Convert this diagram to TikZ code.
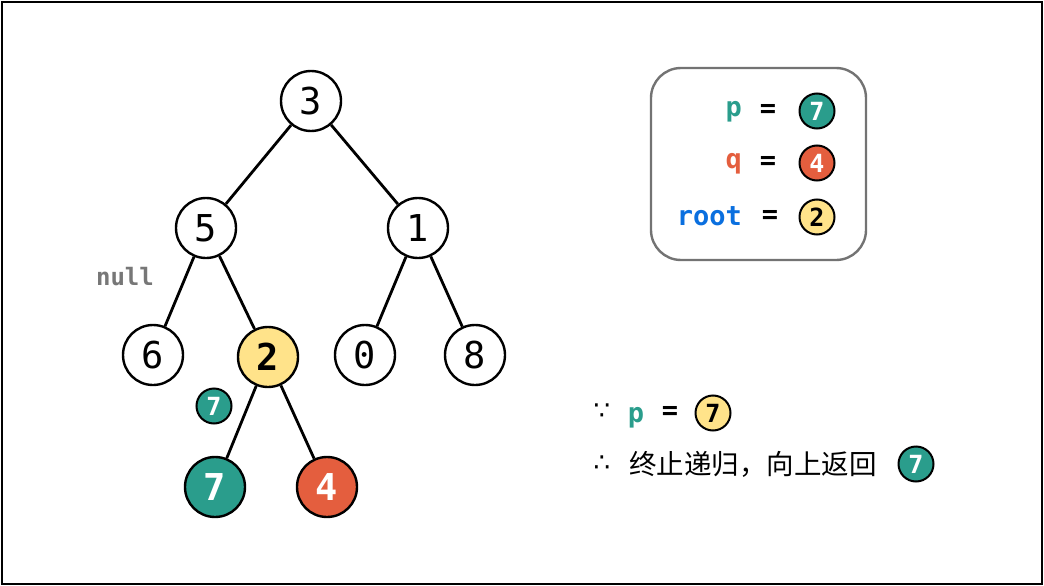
\documentclass[tikz,border=0pt]{standalone}
\usepackage{fontspec}
\setmainfont{DejaVu Sans Mono}
\newfontfamily\cjk{Noto Sans CJK SC}
\newfontfamily\symf{DejaVu Sans}
\definecolor{teal7}{HTML}{2A9D8C}
\definecolor{red4}{HTML}{E45E3E}
\definecolor{yel2}{HTML}{FFE38A}
\definecolor{rootblue}{HTML}{0A6FDF}
\definecolor{nullgray}{HTML}{777777}
\begin{document}
\begin{tikzpicture}[x=1pt,y=-1pt,
  tn/.style={circle,draw=black,line width=2.4pt,minimum size=60pt,inner sep=0pt,fill=white,font=\fontsize{37}{37}\selectfont},
  sn/.style={circle,draw=black,line width=2pt,minimum size=35pt,inner sep=0pt,font=\fontsize{25}{25}\selectfont\bfseries},
  edge/.style={line width=2.8pt,black},
  lbl/.style={font=\fontsize{27}{27}\selectfont\bfseries,inner sep=0pt}]
\useasboundingbox (0,0) rectangle (1044,586);
\draw[line width=2.5pt] (2,2) rectangle (1042,584);
% tree
\node[tn] (n3) at (311,101) {3};
\node[tn] (n5) at (206,228) {5};
\node[tn] (n1) at (418,228) {1};
\node[tn] (n6) at (153,355) {6};
\node[tn,fill=yel2,font=\fontsize{37}{37}\selectfont\bfseries] (n2) at (268,357) {2};
\node[tn] (n0) at (365,355) {0};
\node[tn] (n8) at (475,355) {8};
\node[tn,fill=teal7,text=white,font=\fontsize{37}{37}\selectfont\bfseries] (n7) at (215,487) {7};
\node[tn,fill=red4,text=white,font=\fontsize{37}{37}\selectfont\bfseries] (n4) at (327,487) {4};
\draw[edge] (n3) -- (n5);
\draw[edge] (n3) -- (n1);
\draw[edge] (n5) -- (n6);
\draw[edge] (n5) -- (n2);
\draw[edge] (n1) -- (n0);
\draw[edge] (n1) -- (n8);
\draw[edge] (n2) -- (n7);
\draw[edge] (n2) -- (n4);
\node[sn,fill=teal7,text=white] (s7) at (214,406) {7};
\node[font=\fontsize{24}{24}\selectfont\bfseries,text=nullgray,inner sep=0pt,anchor=base] (null) at (125,285) {null};
% legend
\draw[draw=gray!110,line width=2.4pt,rounded corners=30pt] (651,68) rectangle (866,260);
\node[lbl,text=teal7,anchor=base east] (lp) at (742,116) {p};
\node[lbl] (le1) at (768,111) {=};
\node[sn,fill=teal7,text=white] (lc1) at (817,111) {7};
\node[lbl,text=red4,anchor=base east] (lq) at (742,168) {q};
\node[lbl] (le2) at (768,163) {=};
\node[sn,fill=red4,text=white] (lc2) at (817,163) {4};
\node[lbl,text=rootblue,anchor=base east] (lr) at (742,225) {root};
\node[lbl] (le3) at (770,217) {=};
\node[sn,fill=yel2,text=black] (lc3) at (817,217) {2};
% bottom text
\node[font=\symf\fontsize{26}{26}\selectfont,inner sep=0pt] (because) at (602,412) {∵};
\node[lbl,text=teal7,anchor=base] (bp) at (636,422) {p};
\node[lbl] (be) at (670,413) {=};
\node[sn,fill=yel2,text=black] (bc) at (713,413) {7};
\node[font=\symf\fontsize{26}{26}\selectfont,inner sep=0pt] (therefore) at (602,464) {∴};
\node[font=\cjk\fontsize{27.5}{27.5}\selectfont,inner sep=0pt,anchor=west] (cn) at (629,464) {终止递归，向上返回};
\node[sn,fill=teal7,text=white] (tc) at (916,464) {7};
\end{tikzpicture}
\end{document}
